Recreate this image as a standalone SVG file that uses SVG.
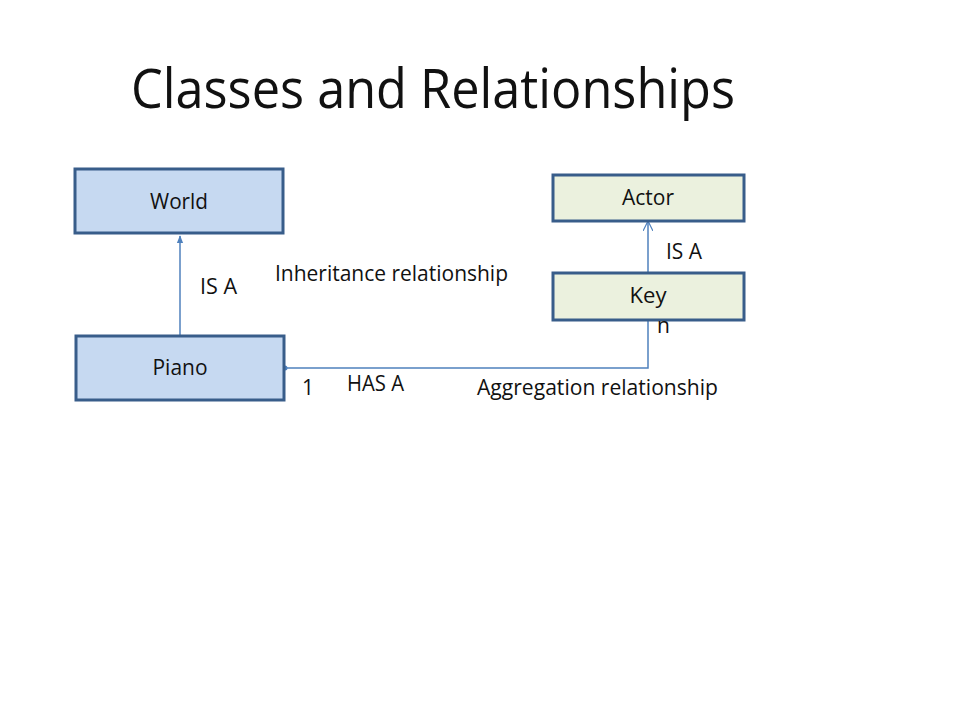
<svg xmlns="http://www.w3.org/2000/svg" width="960" height="720" viewBox="0 0 960 720">
<defs>
<style>
text{font-family:"Open Sans","Liberation Sans",sans-serif;fill:#111}
.box1{fill:#c6d9f1;stroke:#385d8a;stroke-width:3}
.box2{fill:#ebf1de;stroke:#385d8a;stroke-width:3}
.conn{stroke:#4f81bd;stroke-width:1.5;fill:none}
.lbl{font-size:21px}
</style>
<marker id="filled" viewBox="0 0 10 10" refX="9" refY="5" markerWidth="8" markerHeight="8" orient="auto" markerUnits="userSpaceOnUse">
<path d="M0,1 L10,5 L0,9 z" fill="#4f81bd"/>
</marker>
<marker id="open" viewBox="0 0 10 10" refX="9" refY="5" markerWidth="10" markerHeight="10" orient="auto" markerUnits="userSpaceOnUse">
<path d="M0,0 L10,5 L0,10" fill="none" stroke="#4f81bd" stroke-width="1.2"/>
</marker>
</defs>
<rect width="960" height="720" fill="#fff"/>
<text x="131" y="108" font-size="54" textLength="604" lengthAdjust="spacingAndGlyphs">Classes and Relationships</text>
<g id="connectors">
<line class="conn" x1="180" y1="336" x2="180" y2="236" marker-end="url(#filled)"/>
<line class="conn" x1="648" y1="273" x2="648" y2="222" marker-end="url(#open)"/>
<polyline class="conn" points="285,368 648,368 648,320"/>
<circle cx="285" cy="368" r="2.5" fill="#4f81bd"/>
</g>
<g id="world">
<rect class="box1" x="75" y="169" width="208" height="64"/>
<text x="179" y="209" font-size="22" text-anchor="middle" textLength="58" lengthAdjust="spacingAndGlyphs">World</text>
</g>
<g id="piano">
<rect class="box1" x="76" y="336" width="208" height="64"/>
<text x="180" y="375" class="lbl" text-anchor="middle" textLength="55" lengthAdjust="spacingAndGlyphs">Piano</text>
</g>
<g id="actor">
<rect class="box2" x="553" y="175" width="191" height="46"/>
<text x="648" y="205" class="lbl" text-anchor="middle" textLength="52" lengthAdjust="spacingAndGlyphs">Actor</text>
</g>
<g id="key">
<rect class="box2" x="553" y="273" width="191" height="47"/>
<text x="648" y="303" class="lbl" text-anchor="middle" textLength="37" lengthAdjust="spacingAndGlyphs">Key</text>
</g>
<text x="200" y="294" class="lbl" textLength="37" lengthAdjust="spacingAndGlyphs">IS A</text>
<text x="275" y="281" class="lbl" textLength="233" lengthAdjust="spacingAndGlyphs">Inheritance relationship</text>
<text x="666" y="259" class="lbl" textLength="36" lengthAdjust="spacingAndGlyphs">IS A</text>
<text x="657" y="333" class="lbl">n</text>
<text x="302" y="395" class="lbl">1</text>
<text x="347" y="391" class="lbl" textLength="57" lengthAdjust="spacingAndGlyphs">HAS A</text>
<text x="477" y="395" class="lbl" textLength="241" lengthAdjust="spacingAndGlyphs">Aggregation relationship</text>
</svg>
